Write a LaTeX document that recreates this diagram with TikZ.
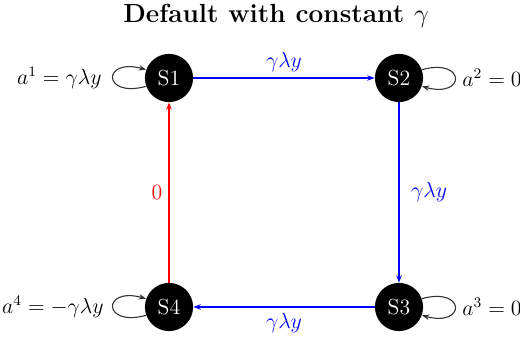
\documentclass[tikz,border=0pt]{standalone}
\usetikzlibrary{arrows.meta}
\begin{document}
\begin{tikzpicture}[x=0.55pt,y=0.55pt,
  state/.style={circle,fill=black,text=white,minimum size=26.5pt,inner sep=0pt,font=\large},
  edgeb/.style={draw=blue,line width=0.65pt,-{Stealth[length=4pt,width=3pt]}},
  edger/.style={draw=red,line width=0.65pt,-{Stealth[length=4pt,width=3pt]}},
  selfloop/.style={draw=black!80,line width=0.6pt,-{Stealth[length=4pt,width=3pt]}},
  lab/.style={font=\large}]
\useasboundingbox (0,0) rectangle (520,341);
\node[font=\Large\bfseries] (title) at (276,325) {Default with constant $\gamma$};
\node[state] (s1) at (169,263) {S1};
\node[state] (s2) at (399,263) {S2};
\node[state] (s3) at (399,34) {S3};
\node[state] (s4) at (169,34) {S4};
\draw[edgeb] (s1) -- node[above,text=blue,lab] {$\gamma\lambda y$} (s2);
\draw[edgeb] (s2) -- node[right,text=blue,lab,xshift=3pt] {$\gamma\lambda y$} (s3);
\draw[edgeb] (s3) -- node[below,text=blue,lab] {$\gamma\lambda y$} (s4);
\draw[edger] (s4) -- node[left,text=red,lab] {$0$} (s1);
\draw[selfloop] (s1.200) .. controls +(-44,-12) and +(-44,12) .. (s1.160);
\draw[selfloop] (s4.200) .. controls +(-44,-12) and +(-44,12) .. (s4.160);
\draw[selfloop] (s2.20) .. controls +(44,12) and +(44,-12) .. (s2.-20);
\draw[selfloop] (s3.20) .. controls +(44,12) and +(44,-12) .. (s3.-20);
\coordinate (l1) at (108,263);
\coordinate (l2) at (456,263);
\coordinate (l3) at (456,34);
\coordinate (l4) at (110,34);
\node[lab,anchor=east] (a1) at (l1) {$a^1=\gamma\lambda y$};
\node[lab,anchor=west] (a2) at (l2) {$a^2=0$};
\node[lab,anchor=west] (a3) at (l3) {$a^3=0$};
\node[lab,anchor=east] (a4) at (l4) {$a^4=-\gamma\lambda y$};
\end{tikzpicture}
\end{document}
